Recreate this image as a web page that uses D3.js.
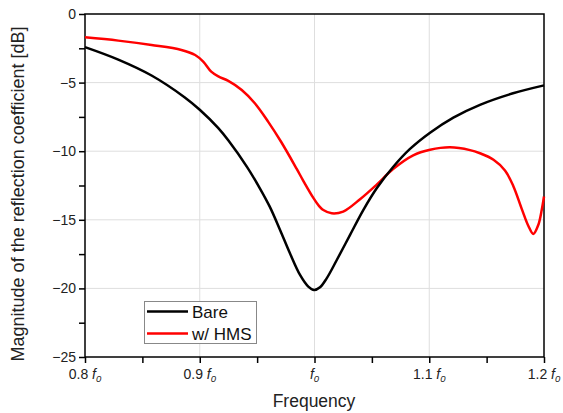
<!DOCTYPE html>
<html>
<head>
<meta charset="utf-8">
<script src="https://cdn.jsdelivr.net/npm/d3@7/dist/d3.min.js"></script>
<style>
  html, body { margin: 0; padding: 0; background: #fff; }
  svg { display: block; font-family: "Liberation Sans", Arial, sans-serif; }
</style>
</head>
<body>
<svg id="chart" width="563" height="413"></svg>
<script>
// Normalised frequency (f / f0) and |S11| in dB
const bareFreq = [0.800, 0.829, 0.858, 0.887, 0.900, 0.916, 0.925, 0.941, 0.9525, 0.961, 0.970, 0.9786, 0.9874, 0.9946, 0.9996, 1.0048, 1.0106, 1.0193, 1.031, 1.0425, 1.0542, 1.0685, 1.083, 1.1007, 1.121, 1.1442, 1.173, 1.200];
const bareDb   = [-2.41, -3.32, -4.48, -6.08, -6.98, -8.30, -9.22, -11.12, -12.72, -14.04, -15.74, -17.44, -19.02, -19.87, -20.12, -19.92, -19.27, -17.95, -16.10, -14.29, -12.70, -11.15, -9.85, -8.65, -7.55, -6.62, -5.78, -5.20];

const hmsFreq = [0.800, 0.829, 0.858, 0.884, 0.896, 0.903, 0.910, 0.9162, 0.9249, 0.9366, 0.948, 0.9597, 0.971, 0.9845, 0.990, 0.999, 1.004, 1.0077, 1.015, 1.025, 1.0397, 1.054, 1.0685, 1.086, 1.1007, 1.118, 1.1355, 1.1442, 1.156, 1.166, 1.1733, 1.1806, 1.1864, 1.1907, 1.195, 1.198, 1.200];
const hmsDb   = [-1.70, -1.94, -2.26, -2.62, -2.99, -3.47, -4.20, -4.55, -4.88, -5.54, -6.51, -7.86, -9.33, -11.29, -12.12, -13.40, -14.00, -14.29, -14.53, -14.40, -13.50, -12.45, -11.30, -10.30, -9.90, -9.72, -9.92, -10.15, -10.62, -11.40, -12.55, -14.20, -15.45, -16.03, -15.38, -14.29, -13.30];

const xTicks = [0.8, 0.9, 1.0, 1.1, 1.2];
const xTickPrefix = ["0.8 ", "0.9 ", "", "1.1 ", "1.2 "];
const yTicks = [0, -5, -10, -15, -20, -25];

const seriesNames = ["Bare", "w/ HMS"];
const seriesColors = ["#000000", "#ff0000"];

const svg = d3.select("#chart");
const m = { left: 85, right: 544, top: 14, bottom: 357 };

const x = d3.scaleLinear().domain([0.8, 1.2]).range([m.left, m.right]);
const y = d3.scaleLinear().domain([-25, 0]).range([m.bottom, m.top]);

// grid
const grid = svg.append("g");
grid.selectAll("line.vx").data([0.9, 1.0, 1.1]).enter().append("line")
  .attr("x1", d => x(d)).attr("x2", d => x(d)).attr("y1", m.top).attr("y2", m.bottom)
  .attr("stroke", "#dedede").attr("stroke-width", 1);
grid.selectAll("line.hy").data([-5, -10, -15, -20]).enter().append("line")
  .attr("x1", m.left).attr("x2", m.right).attr("y1", d => y(d)).attr("y2", d => y(d))
  .attr("stroke", "#dedede").attr("stroke-width", 1);

// axes (major + minor ticks, labels drawn separately)
const xAxis = d3.axisBottom(x).tickValues(d3.range(0.8, 1.2001, 0.05)).tickSize(6).tickFormat("");
const gx = svg.append("g").attr("transform", `translate(0,${m.bottom})`).call(xAxis);
gx.select(".domain").remove();
gx.selectAll(".tick line").attr("stroke", "#000").attr("stroke-width", 1.5);

const yAxis = d3.axisLeft(y).tickValues(d3.range(-25, 0.001, 2.5)).tickSize(6).tickFormat("");
const gy = svg.append("g").attr("transform", `translate(${m.left},0)`).call(yAxis);
gy.select(".domain").remove();
gy.selectAll(".tick line").attr("stroke", "#000").attr("stroke-width", 1.5);

// tick labels
svg.append("g").selectAll("text").data(yTicks).enter().append("text")
  .attr("x", m.left - 9).attr("y", d => y(d)).attr("dy", "0.36em")
  .attr("text-anchor", "end").attr("font-size", 14).attr("fill", "#222")
  .text(d => d === 0 ? "0" : "\u2212" + Math.abs(d));

const xl = svg.append("g").selectAll("text").data(xTicks).enter().append("text")
  .attr("x", d => x(d)).attr("y", m.bottom + 22)
  .attr("text-anchor", "middle").attr("font-size", 14).attr("fill", "#222");
xl.append("tspan").text((d, i) => xTickPrefix[i]);
xl.append("tspan").attr("font-style", "italic").text("f");
xl.append("tspan").attr("font-style", "italic").attr("font-size", 9.5).attr("dy", 3).text("0");

// frame
svg.append("rect").attr("x", m.left).attr("y", m.top)
  .attr("width", m.right - m.left).attr("height", m.bottom - m.top)
  .attr("fill", "none").attr("stroke", "#000").attr("stroke-width", 1.5);

// curves
const line = d3.line().x(d => x(d[0])).y(d => y(d[1])).curve(d3.curveCatmullRom.alpha(0.5));
const plot = svg.append("g");
plot.append("path").datum(d3.zip(hmsFreq, hmsDb)).attr("d", line)
  .attr("fill", "none").attr("stroke", seriesColors[1]).attr("stroke-width", 2.5);
plot.append("path").datum(d3.zip(bareFreq, bareDb)).attr("d", line)
  .attr("fill", "none").attr("stroke", seriesColors[0]).attr("stroke-width", 2.5);

// axis titles
svg.append("text").attr("x", 314).attr("y", 407)
  .attr("text-anchor", "middle").attr("font-size", 17.5).attr("fill", "#222").text("Frequency");
svg.append("text").attr("transform", `translate(24,194) rotate(-90)`)
  .attr("text-anchor", "middle").attr("font-size", 18).attr("fill", "#222")
  .text("Magnitude of the reflection coefficient [dB]");

// legend
const lg = svg.append("g");
lg.append("rect").attr("x", 144.5).attr("y", 301.5).attr("width", 112).attr("height", 42)
  .attr("fill", "#fff").attr("stroke", "#888").attr("stroke-width", 1);
seriesNames.forEach((name, i) => {
  const ly = 311.5 + i * 22;
  lg.append("line").attr("x1", 147).attr("x2", 188).attr("y1", ly).attr("y2", ly)
    .attr("stroke", seriesColors[i]).attr("stroke-width", 2.5);
  lg.append("text").attr("x", 192).attr("y", ly).attr("dy", "0.36em")
    .attr("font-size", 17).attr("fill", "#111").text(name);
});
</script>
</body>
</html>
